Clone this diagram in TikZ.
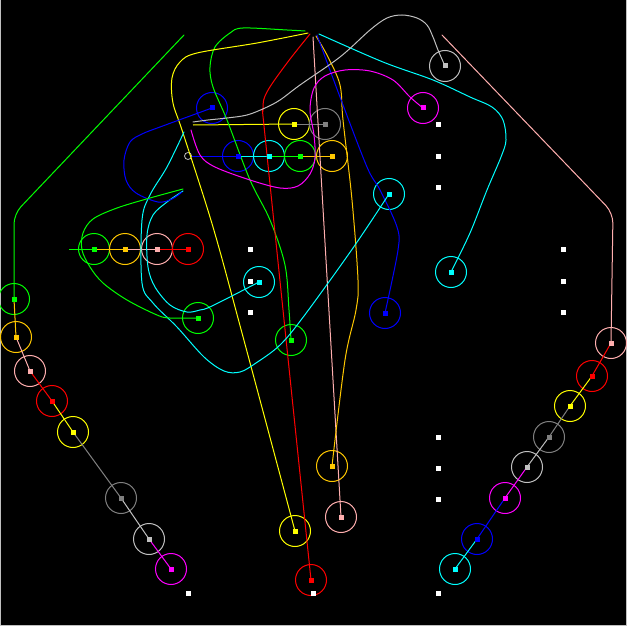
\documentclass[tikz,border=0pt]{standalone}
\definecolor{cgreen}{RGB}{0,255,0}
\definecolor{corange}{RGB}{255,200,0}
\definecolor{cpink}{RGB}{255,175,175}
\definecolor{cred}{RGB}{255,0,0}
\definecolor{cyellow}{RGB}{255,255,0}
\definecolor{cgray}{RGB}{128,128,128}
\definecolor{csilver}{RGB}{192,192,192}
\definecolor{cmag}{RGB}{255,0,255}
\definecolor{cblue}{RGB}{0,0,255}
\definecolor{ccyan}{RGB}{0,255,255}
\newcommand\snk[4]{\node[ring,draw=#2] (#1) at (#3,#4) {};}
\newcommand\sqr[2]{\node[sq,fill=#2] (#1s) at (#1.center) {};}
\begin{document}
\begin{tikzpicture}[x=1pt,y=-1pt,
  ring/.style={circle,line width=1pt,minimum size=31pt,inner sep=0pt},
  sq/.style={rectangle,minimum size=5pt,inner sep=0pt},
  wdot/.style={sq,fill=white},
  lk/.style={line width=1pt},
  crv/.style={line width=1pt,line join=round,line cap=round}]
\fill[black] (0,0) rectangle (627,626);
\useasboundingbox (0,0) rectangle (627,626);
\draw[csilver,line width=1pt] (0.5,0) -- (0.5,625.5) -- (626.5,625.5) -- (626.5,0);
% heads
\snk{L1}{cgreen}{14}{299}
\snk{L2}{corange}{16}{337}
\snk{L3}{cpink}{30}{371}
\snk{L4}{cred}{52}{401}
\snk{L5}{cyellow}{73}{432}
\snk{L6}{cgray}{121}{498}
\snk{L7}{csilver}{149}{539}
\snk{L8}{cmag}{171}{569}
\snk{R1}{cpink}{611}{343}
\snk{R2}{cred}{592}{376}
\snk{R3}{cyellow}{570}{406}
\snk{R4}{cgray}{549}{437}
\snk{R5}{csilver}{527}{467}
\snk{R6}{cmag}{505}{498}
\snk{R7}{cblue}{477}{539}
\snk{R8}{ccyan}{455}{569}
\snk{A1}{cgreen}{94}{249}
\snk{A2}{corange}{125}{249}
\snk{A3}{cpink}{157}{249}
\snk{A4}{cred}{188}{249}
\snk{B1}{cyellow}{294}{124}
\snk{B2}{cgray}{325}{124}
\snk{C1}{cblue}{238}{156}
\snk{C2}{ccyan}{269}{156}
\snk{C3}{cgreen}{300}{156}
\snk{C4}{corange}{332}{156}
\snk{H1}{cblue}{212}{108}
\snk{H2}{csilver}{445}{66}
\snk{H3}{cmag}{423}{108}
\snk{H4}{ccyan}{389}{194}
\snk{H5}{ccyan}{451}{272}
\snk{H6}{cblue}{385}{313}
\snk{H7}{ccyan}{259}{282}
\snk{H8}{cgreen}{198}{318}
\snk{H9}{cgreen}{291}{340}
\snk{H10}{corange}{332}{466}
\snk{H11}{cpink}{341}{517}
\snk{H12}{cyellow}{295}{531}
\snk{H13}{cred}{311}{580}
\node[circle,draw=csilver,line width=.8pt,minimum size=7pt,inner sep=0pt] (C0) at (188,156) {};
% free ends
\coordinate (lg0) at (184,35);
\coordinate (rp0) at (442,35);
\coordinate (a0) at (69,249);
\coordinate (b0) at (193,125);
\coordinate (s0) at (193,122);
\coordinate (m0) at (191,130);
\coordinate (c0) at (184,132);
\coordinate (t1) at (305,31);
\coordinate (t2) at (308,33);
\coordinate (t3) at (310,34);
\coordinate (t4) at (313,37);
\coordinate (t5) at (316,36);
\coordinate (t6) at (317,35);
\coordinate (t7) at (319,34);
\coordinate (k1) at (183,189);
\coordinate (k2) at (183,191);
\coordinate (k3) at (182,192);
% chains
\draw[crv,cgreen,rounded corners=10pt] (lg0) -- (14,214) -- (L1.center);
\draw[lk,corange] (L1.center) -- (L2.center);
\draw[lk,cpink] (L2.center) -- (L3.center);
\draw[lk,cred] (L3.center) -- (L4.center);
\draw[lk,cyellow] (L4.center) -- (L5.center);
\draw[lk,cgray] (L5.center) -- (L6.center);
\draw[lk,csilver] (L6.center) -- (L7.center);
\draw[lk,cmag] (L7.center) -- (L8.center);
\draw[crv,cpink,rounded corners=10pt] (rp0) -- (613,213) -- (R1.center);
\draw[lk,cred] (R1.center) -- (R2.center);
\draw[lk,cyellow] (R2.center) -- (R3.center);
\draw[lk,cgray] (R3.center) -- (R4.center);
\draw[lk,csilver] (R4.center) -- (R5.center);
\draw[lk,cmag] (R5.center) -- (R6.center);
\draw[lk,cblue] (R6.center) -- (R7.center);
\draw[lk,ccyan] (R7.center) -- (R8.center);
\draw[lk,cgreen] (a0) -- (A1.center);
\draw[lk,corange] (A1.center) -- (A2.center);
\draw[lk,cpink] (A2.center) -- (A3.center);
\draw[lk,cred] (A3.center) -- (A4.center);
\draw[lk,cyellow] (b0) -- (B1.center);
\draw[lk,cgray] (B1.center) -- (B2.center);
\draw[lk,cblue] (C0.east) -- (C1.center);
\draw[lk,ccyan] (C1.center) -- (C2.center);
\draw[lk,cgreen] (C2.center) -- (C3.center);
\draw[lk,corange] (C3.center) -- (C4.center);
% long curves
\draw[crv,cgreen] plot[smooth,tension=.55] coordinates {(t1) (287,30) (243,28) (230,33) (215,47) (210,67) (213,87) (227,120) (250,180) (270,220) (285,265) (289,310) (H9.center)};
\draw[crv,cyellow] plot[smooth,tension=.55] coordinates {(t2) (257,43) (197,53) (180,62) (172,78) (173,103) (183,133) (213,227) (242,333) (H12.center)};
\draw[crv,cred] plot[smooth,tension=.55] coordinates {(t3) (287,63) (267,92) (263,110) (267,155) (H13.center)};
\draw[crv,cpink] (t4) -- (H11.center);
\draw[crv,corange] plot[smooth,tension=.55] coordinates {(t5) (328,57) (340,85) (343,120) (352,200) (358,280) (356,310) (345,360) (H10.center)};
\draw[crv,cblue] plot[smooth,tension=.55] coordinates {(t6) (340,97) (367,167) (380,190) (397,227) (398,250) (H6.center)};
\draw[crv,ccyan] plot[smooth,tension=.55] coordinates {(t7) (383,62) (433,80) (470,97) (492,107) (503,120) (506,140) (501,157) (487,190) (470,233) (H5.center)};
\draw[crv,csilver] plot[smooth,tension=.55] coordinates {(s0) (208,120) (227,118) (247,115) (265,108) (280,100) (300,85) (340,57) (370,30) (387,18) (402,15) (417,18) (427,25) (433,37) (438,50) (H2.center)};
\draw[crv,cmag] plot[smooth,tension=.55] coordinates {(m0) (200,155) (215,167) (250,180) (280,188) (298,186) (310,174) (315,158) (314,135) (310,110) (314,88) (325,76) (345,70) (370,71) (393,80) (410,97) (H3.center)};
\draw[crv,ccyan] plot[smooth,tension=.55] coordinates {(c0) (167,167) (150,195) (142,220) (142,283) (153,303) (177,327) (204,357) (224,371) (240,372) (256,363) (280,345) (304,316) (353,248) (H4.center)};
\draw[crv,ccyan] plot[smooth,tension=.55] coordinates {(k2) (167,202) (153,215) (147,235) (148,267) (155,287) (170,305) (187,312) (200,310) (212,306) (H7.center)};
\draw[crv,cblue] plot[smooth,tension=.55] coordinates {(H1.center) (160,127) (142,134) (130,142) (124,160) (126,180) (136,193) (158,202) (172,199) (k3)};
\draw[crv,cgreen] plot[smooth,tension=.55] coordinates {(k1) (150,198) (117,208) (93,219) (83,233) (82,250) (90,267) (103,283) (127,300) (157,315) (170,318) (H8.center)};
% squares
\sqr{L1}{cgreen}\sqr{L2}{corange}\sqr{L3}{cpink}\sqr{L4}{cred}
\sqr{L5}{cyellow}\sqr{L6}{cgray}\sqr{L7}{csilver}\sqr{L8}{cmag}
\sqr{R1}{cpink}\sqr{R2}{cred}\sqr{R3}{cyellow}\sqr{R4}{cgray}
\sqr{R5}{csilver}\sqr{R6}{cmag}\sqr{R7}{cblue}\sqr{R8}{ccyan}
\sqr{A1}{cgreen}\sqr{A2}{corange}\sqr{A3}{cpink}\sqr{A4}{cred}
\sqr{B1}{cyellow}\sqr{B2}{cgray}
\sqr{C1}{cblue}\sqr{C2}{ccyan}\sqr{C3}{cgreen}\sqr{C4}{corange}
\sqr{H1}{cblue}\sqr{H2}{csilver}\sqr{H3}{cmag}\sqr{H4}{ccyan}
\sqr{H5}{ccyan}\sqr{H6}{cblue}\sqr{H7}{ccyan}\sqr{H8}{cgreen}
\sqr{H9}{cgreen}\sqr{H10}{corange}\sqr{H11}{cpink}\sqr{H12}{cyellow}
\sqr{H13}{cred}
% white dots
\node[wdot] (w1) at (250,249) {};
\node[wdot] (w2) at (250,281) {};
\node[wdot] (w3) at (250,312) {};
\node[wdot] (w4) at (438,124) {};
\node[wdot] (w5) at (438,156) {};
\node[wdot] (w6) at (438,187) {};
\node[wdot] (w7) at (563,249) {};
\node[wdot] (w8) at (563,281) {};
\node[wdot] (w9) at (563,312) {};
\node[wdot] (w10) at (438,437) {};
\node[wdot] (w11) at (438,468) {};
\node[wdot] (w12) at (438,499) {};
\node[wdot] (w13) at (188,593) {};
\node[wdot] (w14) at (313,593) {};
\node[wdot] (w15) at (438,593) {};
\end{tikzpicture}
\end{document}
